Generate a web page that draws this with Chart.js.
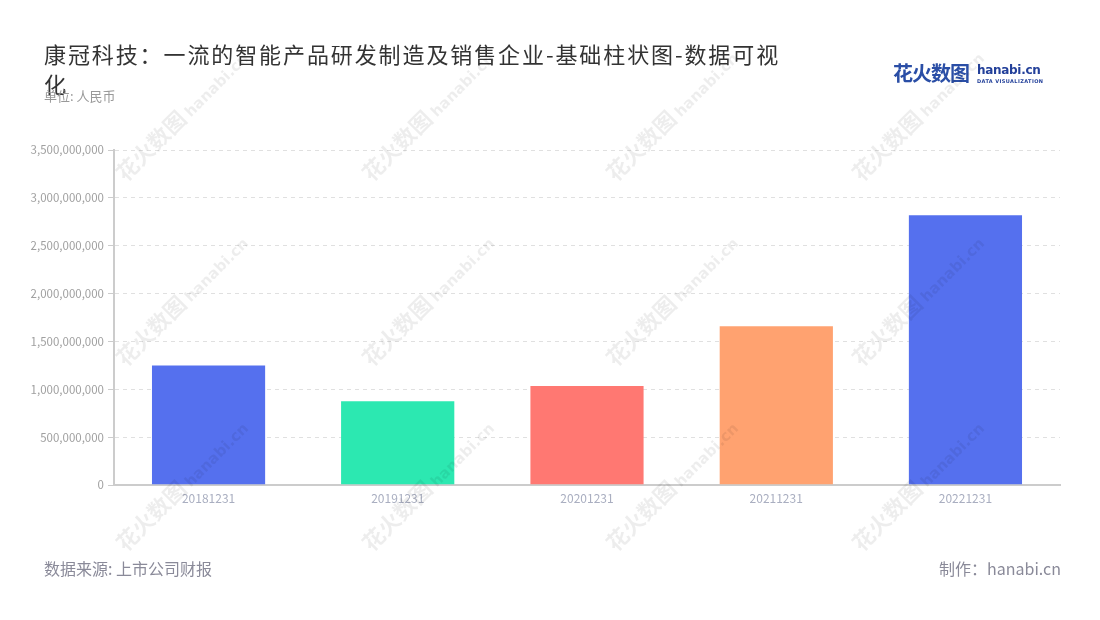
<!DOCTYPE html>
<html>
<head>
<meta charset="utf-8">
<script src="https://cdn.jsdelivr.net/npm/chart.js@4/dist/chart.umd.min.js"></script>
<style>
  body { margin: 0; background: #fff; font-family: "Noto Sans CJK SC", "Noto Sans", sans-serif; }
  #wrap { position: relative; width: 1100px; height: 620px; overflow: hidden; }
  #myChart { position: absolute; left: 0; top: 0; }
  .title { position: absolute; left: 44px; top: 38px; width: 745px; font-size: 22px; letter-spacing: 1.9px; line-height: 30px; color: #333; }
  .sub { position: absolute; left: 44px; top: 86px; font-size: 13px; color: #999; }
  .logo { position: absolute; left: 893px; top: 58px; white-space: nowrap; }
  .logo .cn { font-size: 20px; font-weight: bold; color: #2a4ea6; letter-spacing: -1px; }
  .logo .en { position: absolute; left: 84px; top: 5px; font-size: 12px; font-weight: bold; color: #23409a; font-family: "DejaVu Sans", sans-serif; letter-spacing: -0.3px; }
  .logo .dv { position: absolute; left: 84px; top: 20px; font-size: 5px; font-weight: bold; color: #23409a; letter-spacing: 0.4px; font-family: "DejaVu Sans", sans-serif; }
  .foot { position: absolute; top: 556px; font-size: 16px; color: #8a8a99; }
  .wm { position: absolute; transform: rotate(-45deg); transform-origin: 0 100%; white-space: nowrap; color: rgba(0,0,0,0.07); pointer-events: none; }
  .wm b { font-size: 22px; }
  .wm span { font-size: 15px; font-weight: bold; font-family: "DejaVu Sans", sans-serif; margin-left: 4px; }
</style>
</head>
<body>
<div id="wrap">
  <canvas id="myChart" width="1100" height="620"></canvas>
  <div class="title">康冠科技：一流的智能产品研发制造及销售企业-基础柱状图-数据可视化</div>
  <div class="sub">单位: 人民币</div>
  <div class="logo"><span class="cn">花火数图</span><span class="en">hanabi.cn</span><span class="dv">DATA VISUALIZATION</span></div>
  <div class="foot" style="left:44px">数据来源: 上市公司财报</div>
  <div class="foot" style="right:39px">制作：hanabi.cn</div>
  <div id="marks"></div>
</div>
<script>
// reporting dates and values (RMB)
const dates = ["20181231", "20191231", "20201231", "20211231", "20221231"];
const values = [1259000000, 886000000, 1046000000, 1670000000, 2828000000];
const barColors = ["#5570ee", "#2ce8b1", "#ff7872", "#ffa270", "#5570ee"];
const yTicks = [0, 500000000, 1000000000, 1500000000, 2000000000, 2500000000, 3000000000, 3500000000];

// watermark grid
var marks = "";
var cols = [130, 376, 620, 866];
var rows = [185, 370, 555];
for (var r = 0; r < rows.length; r++) {
	for (var c = 0; c < cols.length; c++) {
		marks += "<div class='wm' style='left:" + cols[c] + "px;top:" + (rows[r] - 30) + "px'><b>花火数图</b><span>hanabi.cn</span></div>";
	}
}
document.getElementById("marks").innerHTML = marks;

const ctx = document.getElementById("myChart");
const chart = new Chart(ctx, {
	type: 'bar',
	data: {
		labels: dates,
		datasets: [{
			data: values,
			backgroundColor: barColors,
			borderColor: "rgba(255,255,255,0.6)",
			borderWidth: { top: 1, left: 0, right: 0, bottom: 0 },
			barPercentage: 0.6,
			categoryPercentage: 1.0
		}]
	},
	options: {
		responsive: false,
		animation: false,
		layout: { padding: { top: 150, right: 40, left: 0, bottom: 0 } },
		plugins: { legend: { display: false }, tooltip: { enabled: false } },
		scales: {
			x: {
				afterFit: function(scale) { scale.height = 135; },
				grid: { display: false, drawOnChartArea: false, drawTicks: true, tickLength: 5, tickColor: "#bbb" },
				border: { color: "#ccc", width: 2 },
				ticks: { color: "#a9aec0", font: { family: "Noto Sans CJK SC", size: 12 }, padding: 1 }
			},
			y: {
				min: 0,
				max: 3500000000,
				afterFit: function(scale) { scale.width = 114; },
				afterBuildTicks: function(scale) { scale.ticks = yTicks.map(function(v) { return { value: v }; }); },
				grid: { color: "#e0e0e0", tickColor: "#ccc", tickLength: 6, tickBorderDash: [0], drawTicks: true },
				border: { color: "#ccc", width: 2, dash: [4, 4] },
				ticks: {
					color: "#a0a0a0",
					font: { family: "Noto Sans CJK SC", size: 11.5 },
					padding: 4,
					callback: function(v) { return Number(v).toLocaleString('en-US'); }
				}
			}
		}
	}
});
</script>
</body>
</html>
